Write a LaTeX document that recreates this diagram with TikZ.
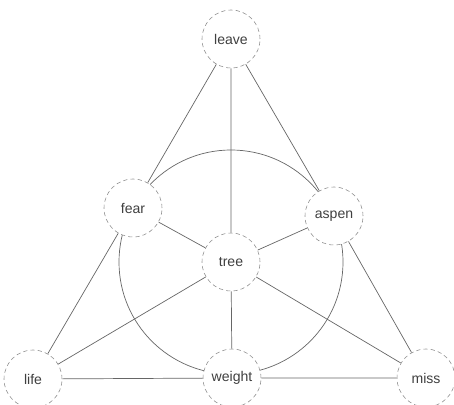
\documentclass[tikz,border=0pt]{standalone}
\usepackage{fontspec}
\setmainfont{Liberation Sans}
\usetikzlibrary{backgrounds}

\tikzset{
    point/.style={circle, draw=black!45, dashed, dash pattern=on 3pt off 2.2pt, fill=white,
        minimum size=1.45cm, inner sep=0pt, text=black!75, font=\normalsize},
    fanoline/.style={draw=black!60, line width=0.5pt}
}

\begin{document}
\begin{tikzpicture}
    \useasboundingbox (0,0) rectangle (11.35,10.1);
    % Points
    \node (leave) at (5.775,9.125) [point] {leave};
    \node (fear) at (3.325,4.9) [point] {fear};
    \node (aspen) at (8.35,4.7) [point] {aspen};
    \node (tree) at (5.775,3.55) [point] {tree};
    \node (life) at (0.825,0.625) [point] {life};
    \node (weight) at (5.8,0.65) [point] {weight};
    \node (miss) at (10.65,0.65) [point] {miss};
    % Lines
    \begin{scope}[on background layer]
        \draw[fanoline] (tree.center) circle (2.8);
        \draw[fanoline] (leave) -- (fear) -- (life);
        \draw[fanoline] (leave) -- (aspen) -- (miss);
        \draw[fanoline] (life) -- (weight) -- (miss);
        \draw[fanoline] (leave) -- (tree) -- (weight);
        \draw[fanoline] (fear) -- (tree) -- (miss);
        \draw[fanoline] (aspen) -- (tree) -- (life);
    \end{scope}
\end{tikzpicture}
\end{document}
